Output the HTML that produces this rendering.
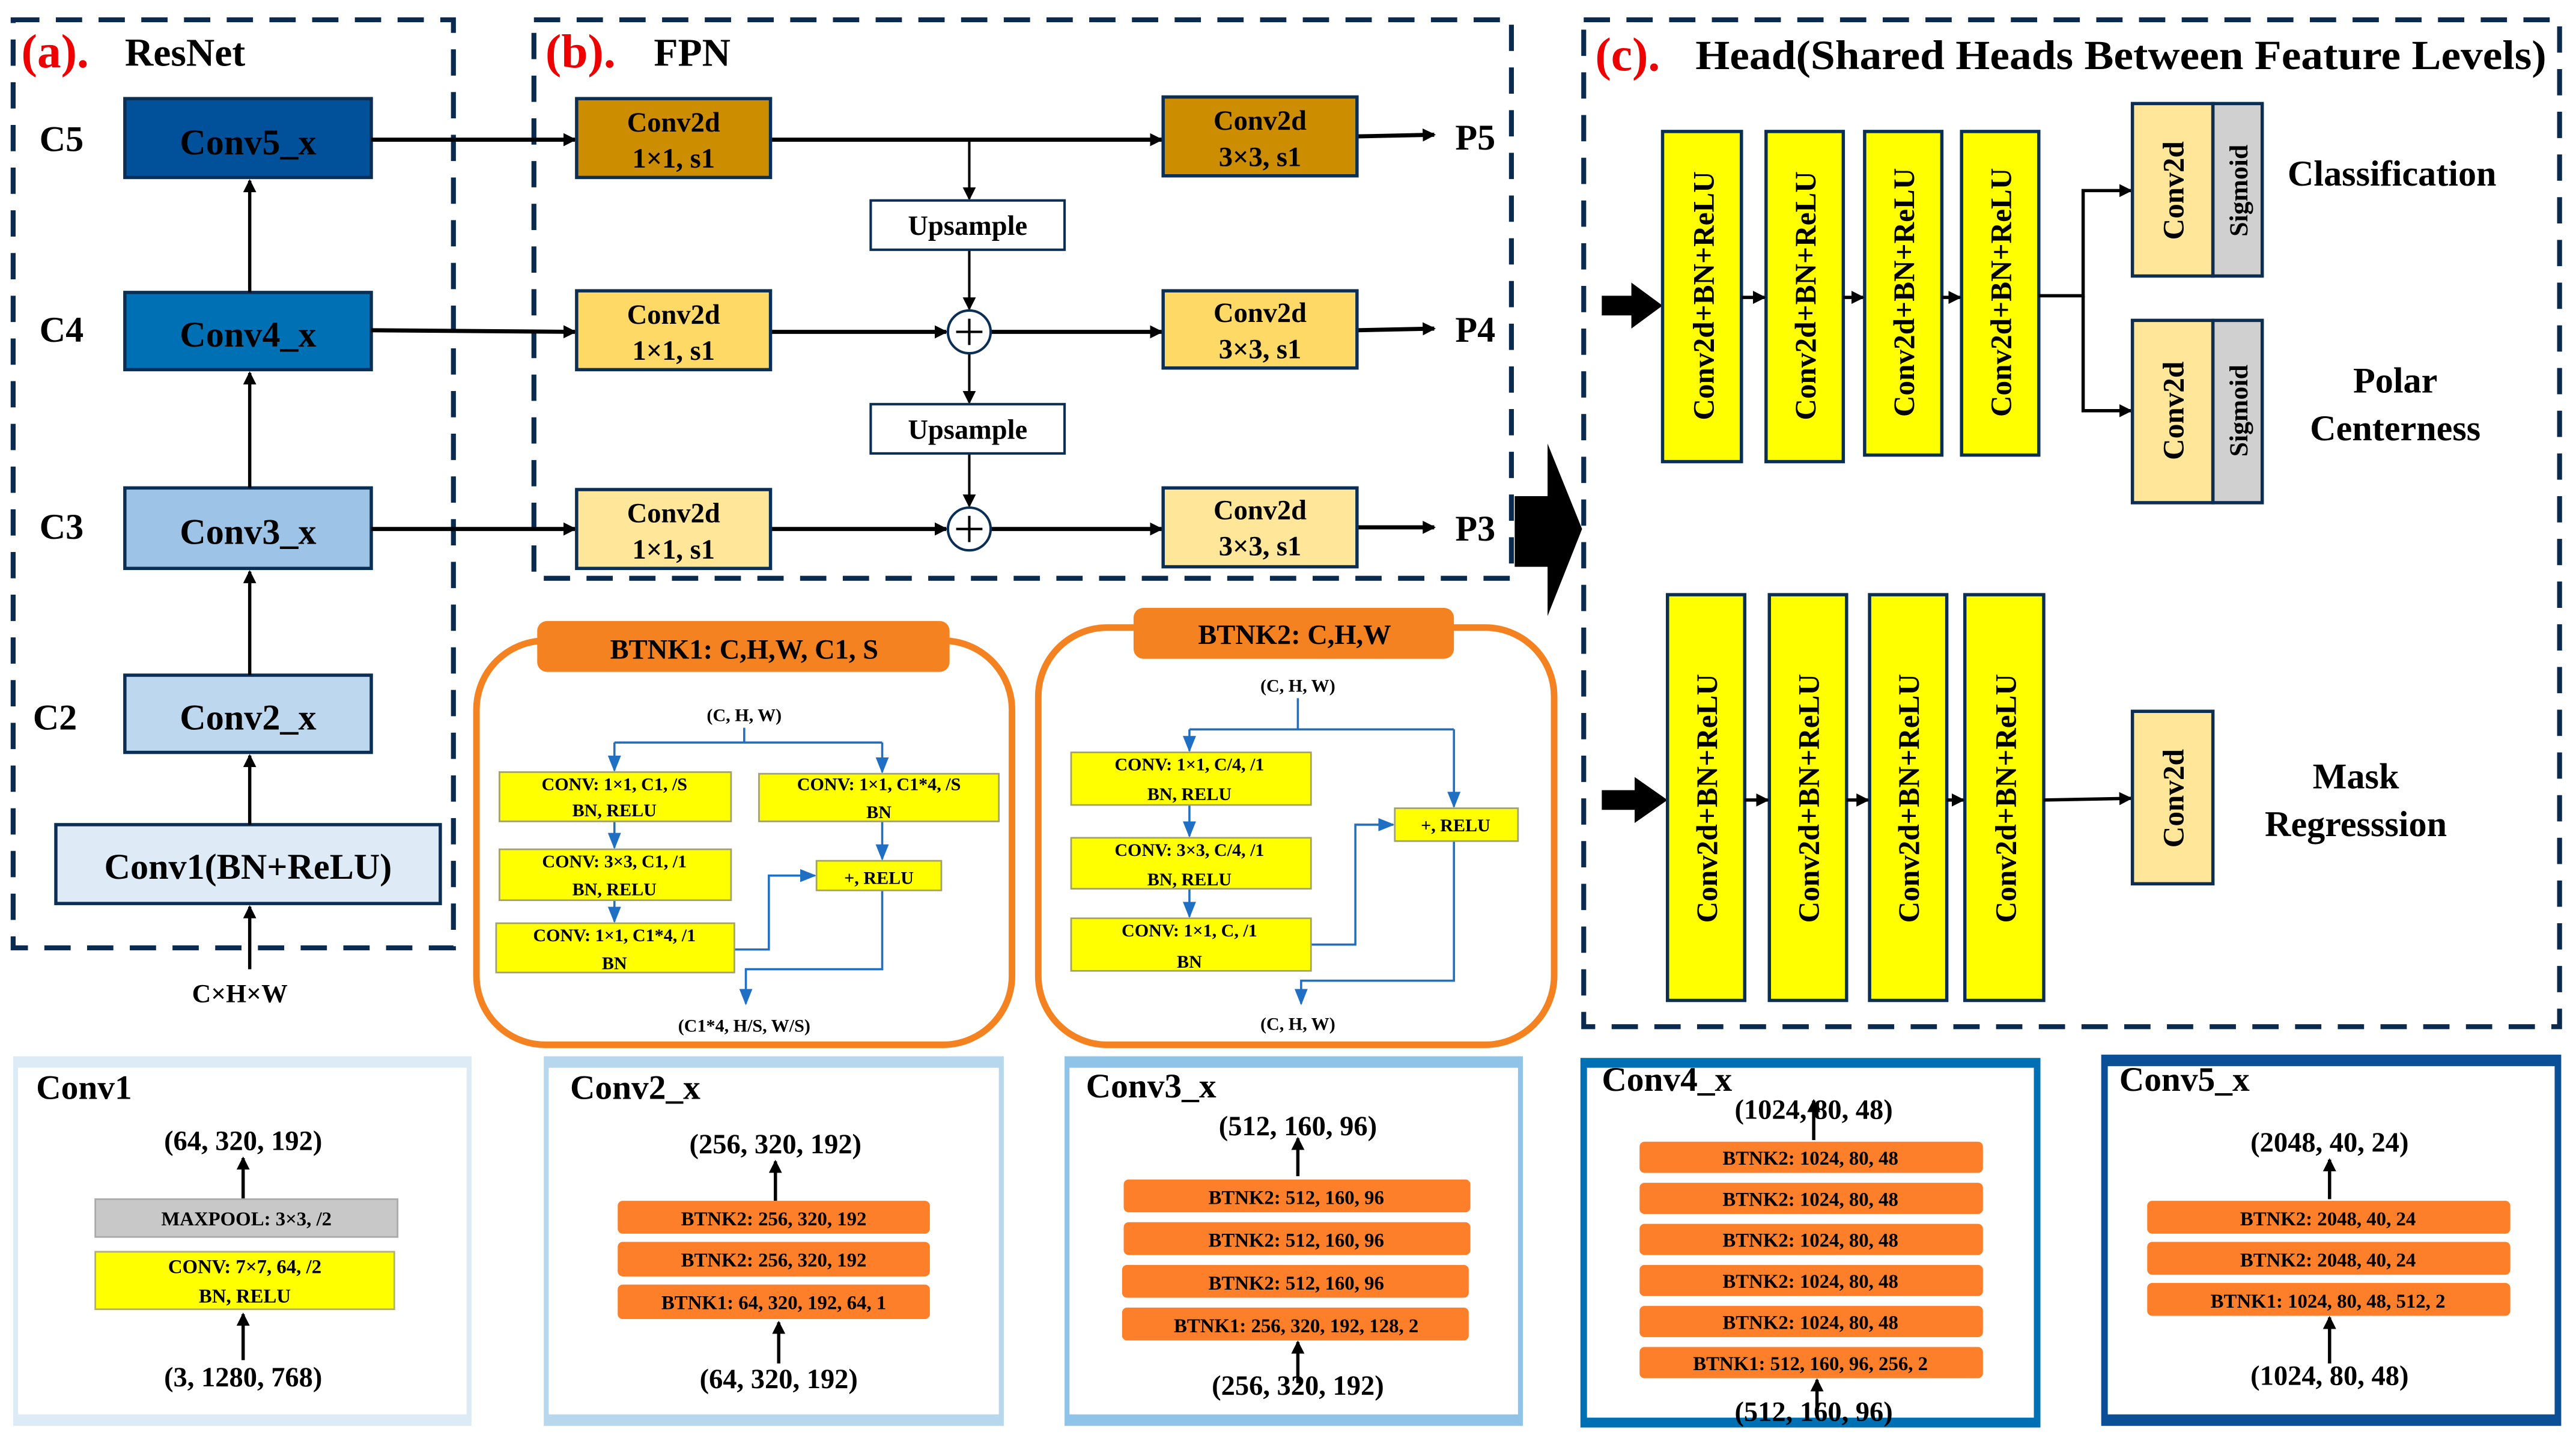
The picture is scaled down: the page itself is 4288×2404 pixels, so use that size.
<!DOCTYPE html>
<html><head><meta charset="utf-8"><style>
html,body{margin:0;padding:0;background:#fff}
svg{display:block}
text{font-family:"Liberation Serif",serif;font-weight:bold;fill:#000}
</style></head><body>
<svg width="4288" height="2404" viewBox="0 0 1568 879" xmlns="http://www.w3.org/2000/svg">
<defs>
<marker id="ab" markerWidth="8" markerHeight="8" refX="7" refY="4" orient="auto" markerUnits="userSpaceOnUse"><path d="M0,0 L8,4 L0,8 z" fill="#000"/></marker>
<marker id="au" markerWidth="10" markerHeight="10" refX="9" refY="5" orient="auto" markerUnits="userSpaceOnUse"><path d="M0,1 L10,5 L0,9 z" fill="#1f6fc4"/></marker>
</defs>
<rect width="1568" height="879" fill="#fff"/>

<!-- Panel a -->
<rect x="8" y="12" width="268" height="565" fill="none" stroke="#0b2a4f" stroke-width="3" stroke-dasharray="16,10"/>
<text x="13" y="41" font-size="29" style="fill:#e00">(a).</text>
<text x="76" y="40" font-size="24">ResNet</text>
<text x="24" y="92" font-size="22">C5</text>
<text x="24" y="208" font-size="22">C4</text>
<text x="24" y="328" font-size="22">C3</text>
<text x="20" y="444" font-size="22">C2</text>
<rect x="76" y="60" width="150" height="48" fill="#00519a" stroke="#0b2e55" stroke-width="2"/>
<text x="151" y="94" font-size="22" text-anchor="middle">Conv5_x</text>
<rect x="76" y="178" width="150" height="47" fill="#0070b4" stroke="#0b2e55" stroke-width="2"/>
<text x="151" y="211" font-size="22" text-anchor="middle">Conv4_x</text>
<rect x="76" y="297" width="150" height="49" fill="#9dc3e6" stroke="#0b2e55" stroke-width="2"/>
<text x="151" y="331" font-size="22" text-anchor="middle">Conv3_x</text>
<rect x="76" y="411" width="150" height="47" fill="#bdd7ee" stroke="#0b2e55" stroke-width="2"/>
<text x="151" y="444" font-size="22" text-anchor="middle">Conv2_x</text>
<rect x="34" y="502" width="234" height="48" fill="#deebf7" stroke="#0b2e55" stroke-width="2"/>
<text x="151" y="535" font-size="22" text-anchor="middle">Conv1(BN+ReLU)</text>
<g stroke="#000" stroke-width="2" marker-end="url(#ab)">
<line x1="152" y1="178" x2="152" y2="110"/>
<line x1="152" y1="297" x2="152" y2="227"/>
<line x1="152" y1="411" x2="152" y2="348"/>
<line x1="152" y1="502" x2="152" y2="460"/>
<line x1="152" y1="590" x2="152" y2="552"/>
</g>
<text x="146" y="610" font-size="16" text-anchor="middle">C×H×W</text>

<!-- Panel b -->
<rect x="325" y="12" width="595" height="340" fill="none" stroke="#0b2a4f" stroke-width="3" stroke-dasharray="16,10"/>
<text x="332" y="41" font-size="29" style="fill:#e00">(b).</text>
<text x="398" y="40" font-size="24">FPN</text>
<g stroke="#000" stroke-width="2.5" marker-end="url(#ab)">
<line x1="226" y1="85" x2="350" y2="85"/>
<line x1="226" y1="201" x2="350" y2="202"/>
<line x1="226" y1="322" x2="350" y2="322"/>
<line x1="469" y1="85" x2="707" y2="85"/>
<line x1="469" y1="202" x2="576" y2="202"/>
<line x1="603" y1="202" x2="707" y2="202"/>
<line x1="469" y1="322" x2="576" y2="322"/>
<line x1="603" y1="322" x2="707" y2="322"/>
<line x1="826" y1="83" x2="873" y2="82"/>
<line x1="826" y1="201" x2="873" y2="200"/>
<line x1="826" y1="321" x2="873" y2="321"/>
</g>
<g stroke="#000" stroke-width="1.5" marker-end="url(#ab)">
<line x1="590" y1="85" x2="590" y2="121"/>
<line x1="590" y1="152" x2="590" y2="188"/>
<line x1="590" y1="215" x2="590" y2="245"/>
<line x1="590" y1="276" x2="590" y2="308"/>
</g>
<rect x="351" y="60" width="118" height="48" fill="#cc8e00" stroke="#0b2e55" stroke-width="2"/>
<rect x="351" y="177" width="118" height="48" fill="#ffd966" stroke="#0b2e55" stroke-width="2"/>
<rect x="351" y="298" width="118" height="48" fill="#ffe699" stroke="#0b2e55" stroke-width="2"/>
<rect x="708" y="59" width="118" height="48" fill="#cc8e00" stroke="#0b2e55" stroke-width="2"/>
<rect x="708" y="177" width="118" height="47" fill="#ffd966" stroke="#0b2e55" stroke-width="2"/>
<rect x="708" y="297" width="118" height="48" fill="#ffe699" stroke="#0b2e55" stroke-width="2"/>
<g font-size="17" text-anchor="middle">
<text x="410" y="80">Conv2d</text><text x="410" y="102">1×1, s1</text>
<text x="410" y="197">Conv2d</text><text x="410" y="219">1×1, s1</text>
<text x="410" y="318">Conv2d</text><text x="410" y="340">1×1, s1</text>
<text x="767" y="79">Conv2d</text><text x="767" y="101">3×3, s1</text>
<text x="767" y="196">Conv2d</text><text x="767" y="218">3×3, s1</text>
<text x="767" y="316">Conv2d</text><text x="767" y="338">3×3, s1</text>
</g>
<rect x="530" y="122" width="118" height="30" fill="#fff" stroke="#0b2e55" stroke-width="1.5"/>
<text x="589" y="143" font-size="17" text-anchor="middle">Upsample</text>
<rect x="530" y="246" width="118" height="30" fill="#fff" stroke="#0b2e55" stroke-width="1.5"/>
<text x="589" y="267" font-size="17" text-anchor="middle">Upsample</text>
<circle cx="590" cy="202" r="13" fill="#fff" stroke="#0b2e55" stroke-width="1.5"/>
<path d="M582,202 H598 M590,194 V210" stroke="#000" stroke-width="1.5"/>
<circle cx="590" cy="322" r="13" fill="#fff" stroke="#0b2e55" stroke-width="1.5"/>
<path d="M582,322 H598 M590,314 V330" stroke="#000" stroke-width="1.5"/>
<text x="898" y="91" font-size="22" text-anchor="middle">P5</text>
<text x="898" y="208" font-size="22" text-anchor="middle">P4</text>
<text x="898" y="329" font-size="22" text-anchor="middle">P3</text>

<!-- big arrow -->
<path d="M922,302 H942 V270 L963,322 L942,375 V345 H922 Z" fill="#000"/>

<!-- Panel c -->
<rect x="964" y="12" width="594" height="613" fill="none" stroke="#0b2a4f" stroke-width="3" stroke-dasharray="16,10"/>
<text x="971" y="43" font-size="29" style="fill:#e00">(c).</text>
<text x="1032" y="42" font-size="25" textLength="518" lengthAdjust="spacingAndGlyphs">Head(Shared Heads Between Feature Levels)</text>
<path d="M975,180 H993 V172 L1012,186 L993,200 V192 H975 Z" fill="#000"/>
<path d="M975,481 H995 V473 L1015,487 L995,501 V493 H975 Z" fill="#000"/>
<g fill="#ffff00" stroke="#0b2e55" stroke-width="2">
<rect x="1012" y="80" width="48" height="201"/>
<rect x="1075" y="80" width="47" height="201"/>
<rect x="1135" y="80" width="47" height="197"/>
<rect x="1194" y="80" width="47" height="197"/>
<rect x="1015" y="362" width="47" height="247"/>
<rect x="1077" y="362" width="47" height="247"/>
<rect x="1138" y="362" width="47" height="247"/>
<rect x="1196" y="362" width="48" height="247"/>
</g>
<g font-size="18" text-anchor="middle">
<text transform="translate(1043,180) rotate(-90)">Conv2d+BN+ReLU</text>
<text transform="translate(1105,180) rotate(-90)">Conv2d+BN+ReLU</text>
<text transform="translate(1165,178) rotate(-90)">Conv2d+BN+ReLU</text>
<text transform="translate(1224,178) rotate(-90)">Conv2d+BN+ReLU</text>
<text transform="translate(1045,486) rotate(-90)">Conv2d+BN+ReLU</text>
<text transform="translate(1107,486) rotate(-90)">Conv2d+BN+ReLU</text>
<text transform="translate(1168,486) rotate(-90)">Conv2d+BN+ReLU</text>
<text transform="translate(1227,486) rotate(-90)">Conv2d+BN+ReLU</text>
</g>
<g stroke="#000" stroke-width="2" marker-end="url(#ab)">
<line x1="1060" y1="181" x2="1074" y2="181"/>
<line x1="1122" y1="181" x2="1134" y2="181"/>
<line x1="1182" y1="181" x2="1193" y2="181"/>
<line x1="1062" y1="487" x2="1076" y2="487"/>
<line x1="1124" y1="487" x2="1137" y2="487"/>
<line x1="1185" y1="487" x2="1195" y2="487"/>
<line x1="1244" y1="487" x2="1297" y2="486"/>
<polyline points="1241,180 1268,180 1268,116 1297,116" fill="none"/>
<polyline points="1268,180 1268,250 1297,250" fill="none"/>
</g>
<g stroke="#0b2e55" stroke-width="2">
<rect x="1298" y="63" width="49" height="105" fill="#ffe699"/>
<rect x="1347" y="63" width="30" height="105" fill="#d0d0d0"/>
<rect x="1298" y="195" width="49" height="111" fill="#ffe699"/>
<rect x="1347" y="195" width="30" height="111" fill="#d0d0d0"/>
<rect x="1298" y="433" width="49" height="105" fill="#ffe699"/>
</g>
<g font-size="18" text-anchor="middle">
<text transform="translate(1329,116) rotate(-90)">Conv2d</text>
<text transform="translate(1368,116) rotate(-90)" font-size="16">Sigmoid</text>
<text transform="translate(1329,250) rotate(-90)">Conv2d</text>
<text transform="translate(1368,250) rotate(-90)" font-size="16">Sigmoid</text>
<text transform="translate(1329,486) rotate(-90)">Conv2d</text>
</g>
<g font-size="22" text-anchor="middle">
<text x="1456" y="113">Classification</text>
<text x="1458" y="239">Polar</text>
<text x="1458" y="268">Centerness</text>
<text x="1434" y="480">Mask</text>
<text x="1434" y="509">Regresssion</text>
</g>

<!-- BTNK1 -->
<rect x="290" y="390" width="326" height="246" rx="42" fill="#fff" stroke="#f58220" stroke-width="4"/>
<rect x="327" y="378" width="251" height="31" rx="6" fill="#f58220"/>
<text x="453" y="401" font-size="17" text-anchor="middle">BTNK1: C,H,W, C1, S</text>
<g font-size="11" text-anchor="middle">
<text x="453" y="439">(C, H, W)</text>
<text x="453" y="628">(C1*4, H/S, W/S)</text>
</g>
<g fill="none" stroke="#1f6fc4" stroke-width="1.3">
<polyline points="453,443 453,452"/>
<polyline points="374,452 537,452"/>
<line x1="374" y1="452" x2="374" y2="469" marker-end="url(#au)"/>
<line x1="537" y1="452" x2="537" y2="470" marker-end="url(#au)"/>
<line x1="374" y1="500" x2="374" y2="516" marker-end="url(#au)"/>
<line x1="374" y1="548" x2="374" y2="561" marker-end="url(#au)"/>
<line x1="537" y1="500" x2="537" y2="523" marker-end="url(#au)"/>
<polyline points="447,578 468,578 468,533 496,533" marker-end="url(#au)"/>
<polyline points="537,542 537,590 454,590 454,611" marker-end="url(#au)"/>
</g>
<g fill="#ffff00" stroke="#a0a070" stroke-width="1">
<rect x="304" y="470" width="141" height="30"/>
<rect x="462" y="471" width="146" height="29"/>
<rect x="304" y="517" width="141" height="31"/>
<rect x="302" y="562" width="145" height="30"/>
<rect x="497" y="524" width="76" height="18"/>
</g>
<g font-size="11" text-anchor="middle">
<text x="374" y="481">CONV: 1×1, C1, /S</text><text x="374" y="497">BN, RELU</text>
<text x="535" y="481">CONV: 1×1, C1*4, /S</text><text x="535" y="498">BN</text>
<text x="374" y="528">CONV: 3×3, C1, /1</text><text x="374" y="545">BN, RELU</text>
<text x="374" y="573">CONV: 1×1, C1*4, /1</text><text x="374" y="590">BN</text>
<text x="535" y="538">+, RELU</text>
</g>

<!-- BTNK2 -->
<rect x="632" y="382" width="314" height="254" rx="42" fill="#fff" stroke="#f58220" stroke-width="4"/>
<rect x="690" y="370" width="195" height="31" rx="6" fill="#f58220"/>
<text x="788" y="392" font-size="17" text-anchor="middle">BTNK2: C,H,W</text>
<g font-size="11" text-anchor="middle">
<text x="790" y="421">(C, H, W)</text>
<text x="790" y="627">(C, H, W)</text>
</g>
<g fill="none" stroke="#1f6fc4" stroke-width="1.3">
<polyline points="790,425 790,444"/>
<polyline points="724,444 885,444"/>
<line x1="724" y1="444" x2="724" y2="457" marker-end="url(#au)"/>
<line x1="885" y1="444" x2="885" y2="491" marker-end="url(#au)"/>
<line x1="724" y1="490" x2="724" y2="509" marker-end="url(#au)"/>
<line x1="724" y1="541" x2="724" y2="558" marker-end="url(#au)"/>
<polyline points="798,575 825,575 825,502 848,502" marker-end="url(#au)"/>
<polyline points="885,512 885,597 792,597 792,611" marker-end="url(#au)"/>
</g>
<g fill="#ffff00" stroke="#a0a070" stroke-width="1">
<rect x="652" y="458" width="146" height="32"/>
<rect x="652" y="510" width="146" height="31"/>
<rect x="652" y="559" width="146" height="32"/>
<rect x="849" y="492" width="75" height="20"/>
</g>
<g font-size="11" text-anchor="middle">
<text x="724" y="469">CONV: 1×1, C/4, /1</text><text x="724" y="487">BN, RELU</text>
<text x="724" y="521">CONV: 3×3, C/4, /1</text><text x="724" y="539">BN, RELU</text>
<text x="724" y="570">CONV: 1×1, C, /1</text><text x="724" y="589">BN</text>
<text x="886" y="506">+, RELU</text>
</g>

<!-- Bottom panels -->
<rect x="8" y="643" width="279" height="225" fill="#ddebf6"/><rect x="11" y="650" width="273" height="211" fill="#fff"/>
<rect x="331" y="643" width="280" height="225" fill="#b7d7ef"/><rect x="334" y="650" width="274" height="211" fill="#fff"/>
<rect x="648" y="643" width="279" height="225" fill="#8fc3e8"/><rect x="651" y="650" width="273" height="211" fill="#fff"/>
<rect x="962" y="644" width="280" height="225" fill="#0070b4"/><rect x="966" y="650" width="272" height="213" fill="#fff"/>
<rect x="1279" y="642" width="280" height="226" fill="#0b4f96"/><rect x="1283" y="649" width="272" height="212" fill="#fff"/>
<g font-size="21">
<text x="22" y="669">Conv1</text>
<text x="347" y="669">Conv2_x</text>
<text x="661" y="668">Conv3_x</text>
<text x="975" y="664">Conv4_x</text>
<text x="1290" y="664">Conv5_x</text>
</g>
<g font-size="17" text-anchor="middle">
<text x="148" y="700">(64, 320, 192)</text>
<text x="148" y="844">(3, 1280, 768)</text>
<text x="472" y="702">(256, 320, 192)</text>
<text x="474" y="845">(64, 320, 192)</text>
<text x="790" y="691">(512, 160, 96)</text>
<text x="790" y="849">(256, 320, 192)</text>
<text x="1104" y="681">(1024, 80, 48)</text>
<text x="1104" y="865">(512, 160, 96)</text>
<text x="1418" y="701">(2048, 40, 24)</text>
<text x="1418" y="843">(1024, 80, 48)</text>
</g>
<g stroke="#000" stroke-width="2" marker-end="url(#ab)">
<line x1="148" y1="730" x2="148" y2="705"/>
<line x1="148" y1="828" x2="148" y2="800"/>
<line x1="472" y1="731" x2="472" y2="707"/>
<line x1="474" y1="830" x2="474" y2="805"/>
<line x1="790" y1="716" x2="790" y2="693"/>
<line x1="790" y1="842" x2="790" y2="817"/>
<line x1="1104" y1="694" x2="1104" y2="670"/>
<line x1="1106" y1="858" x2="1106" y2="840"/>
<line x1="1418" y1="730" x2="1418" y2="706"/>
<line x1="1418" y1="830" x2="1418" y2="802"/>
</g>
<rect x="58" y="730" width="184" height="23" fill="#c8c8c8" stroke="#aaa" stroke-width="1"/>
<rect x="58" y="762" width="182" height="35" fill="#ffff00" stroke="#b0b070" stroke-width="1"/>
<g font-size="12" text-anchor="middle">
<text x="150" y="746">MAXPOOL: 3×3, /2</text>
<text x="149" y="775">CONV: 7×7, 64, /2</text>
<text x="149" y="793">BN, RELU</text>
</g>
<g fill="#fd7f2a">
<rect x="376" y="731" width="190" height="20" rx="3"/>
<rect x="376" y="756" width="190" height="21" rx="3"/>
<rect x="376" y="782" width="190" height="21" rx="3"/>
<rect x="684" y="718" width="211" height="20" rx="3"/>
<rect x="684" y="744" width="211" height="20" rx="3"/>
<rect x="683" y="770" width="211" height="20" rx="3"/>
<rect x="683" y="796" width="211" height="20" rx="3"/>
<rect x="998" y="695" width="209" height="19" rx="3"/>
<rect x="998" y="720" width="209" height="19" rx="3"/>
<rect x="998" y="745" width="209" height="19" rx="3"/>
<rect x="998" y="770" width="209" height="19" rx="3"/>
<rect x="998" y="795" width="209" height="19" rx="3"/>
<rect x="998" y="820" width="209" height="19" rx="3"/>
<rect x="1307" y="731" width="221" height="20" rx="3"/>
<rect x="1307" y="756" width="221" height="20" rx="3"/>
<rect x="1307" y="781" width="221" height="20" rx="3"/>
</g>
<g font-size="12" text-anchor="middle">
<text x="471" y="746">BTNK2: 256, 320, 192</text>
<text x="471" y="771">BTNK2: 256, 320, 192</text>
<text x="471" y="797">BTNK1: 64, 320, 192, 64, 1</text>
<text x="789" y="733">BTNK2: 512, 160, 96</text>
<text x="789" y="759">BTNK2: 512, 160, 96</text>
<text x="789" y="785">BTNK2: 512, 160, 96</text>
<text x="789" y="811">BTNK1: 256, 320, 192, 128, 2</text>
<text x="1102" y="709">BTNK2: 1024, 80, 48</text>
<text x="1102" y="734">BTNK2: 1024, 80, 48</text>
<text x="1102" y="759">BTNK2: 1024, 80, 48</text>
<text x="1102" y="784">BTNK2: 1024, 80, 48</text>
<text x="1102" y="809">BTNK2: 1024, 80, 48</text>
<text x="1102" y="834">BTNK1: 512, 160, 96, 256, 2</text>
<text x="1417" y="746">BTNK2: 2048, 40, 24</text>
<text x="1417" y="771">BTNK2: 2048, 40, 24</text>
<text x="1417" y="796">BTNK1: 1024, 80, 48, 512, 2</text>
</g>
</svg>
</body></html>
